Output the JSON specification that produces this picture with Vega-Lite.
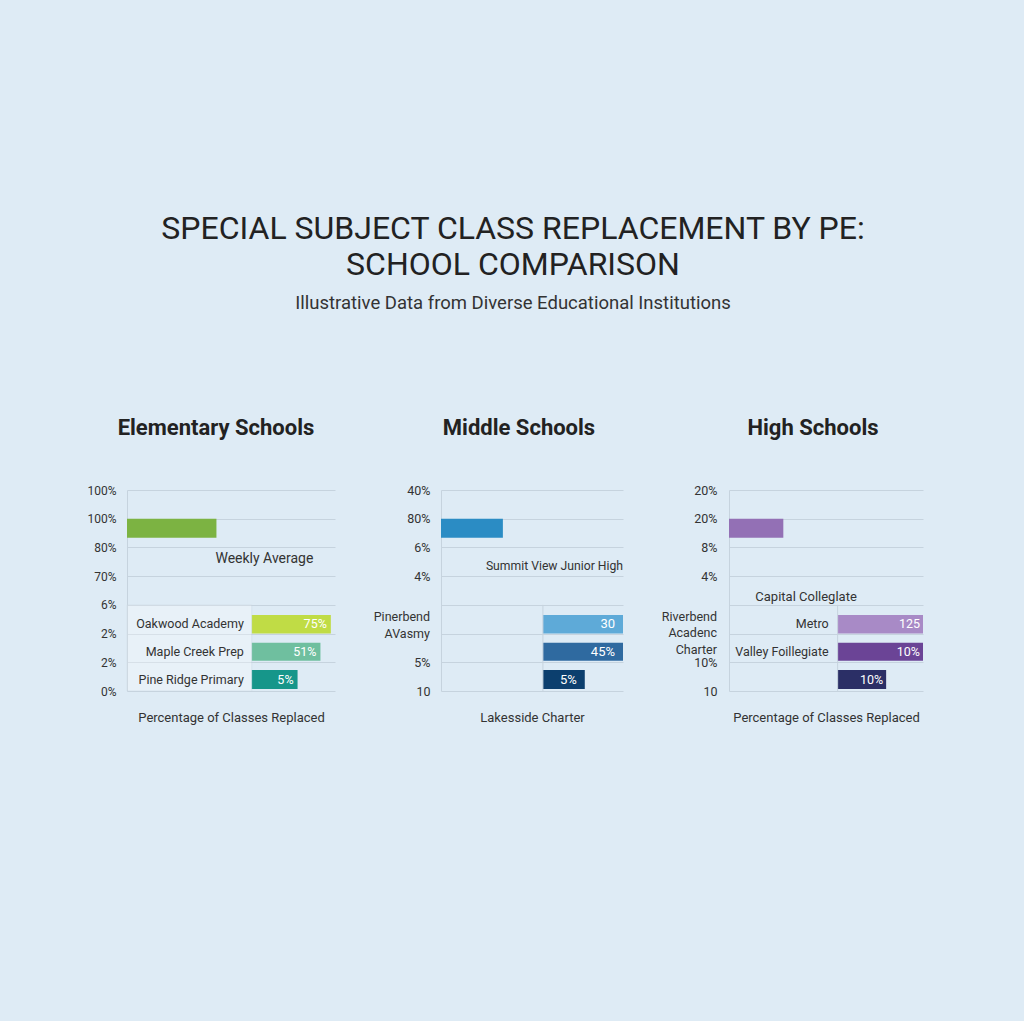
{
  "$schema": "https://vega.github.io/schema/vega-lite/v6.json",
  "background": "#deebf5",
  "padding": {"left": 86, "top": 212, "right": 101, "bottom": 297},
  "bounds": "flush",
  "spacing": 106,
  "config": {
    "font": "Roboto",
    "view": {"stroke": null},
    "axis": {"labelFont": "Roboto", "titleFont": "Roboto", "labelColor": "#333333", "titleColor": "#333333", "labelOverlap": false},
    "axisY": {"tickCount": 8}
  },
  "title": {
    "text": ["SPECIAL SUBJECT CLASS REPLACEMENT BY PE:", "SCHOOL COMPARISON"],
    "subtitle": "Illustrative Data from Diverse Educational Institutions",
    "font": "Roboto",
    "fontSize": 32,
    "fontWeight": "normal",
    "color": "#222222",
    "lineHeight": 36,
    "subtitleFont": "Roboto",
    "subtitleFontSize": 18.5,
    "subtitleColor": "#333333",
    "subtitlePadding": 12,
    "anchor": "middle",
    "dx": 8,
    "offset": 104
  },
  "resolve": {"scale": {"color": "independent", "x": "independent", "y": "independent"}},
  "hconcat": [
    {
      "width": 208,
      "height": 201,
      "title": {"text": "Elementary Schools", "fontSize": 22, "fontWeight": "bold", "color": "#222222", "offset": 44, "dx": -15},
      "data": {"values": [
        {"series": "Weekly Average", "start": 0, "end": 43, "hi": 6, "lo": 5.34, "mid": 5.67, "note": "Weekly Average"},
        {"series": "Oakwood Academy", "name": "Oakwood Academy", "val": "75%", "start": 60, "end": 98, "hi": 2.65, "lo": 2.0, "mid": 2.33},
        {"series": "Maple Creek Prep", "name": "Maple Creek Prep", "val": "51%", "start": 60, "end": 93, "hi": 1.68, "lo": 1.05, "mid": 1.37},
        {"series": "Pine Ridge Primary", "name": "Pine Ridge Primary", "val": "5%", "start": 60, "end": 82, "hi": 0.73, "lo": 0.07, "mid": 0.4}
      ]},
      "layer": [
        {
          "mark": {"type": "bar"},
          "encoding": {
            "x": {"field": "start", "type": "quantitative", "scale": {"domain": [0, 100], "nice": false},
                  "axis": {"title": "Percentage of Classes Replaced", "labels": false, "ticks": false, "domain": false, "grid": false, "titleFontSize": 13, "titleFontWeight": "normal", "titlePadding": 20}},
            "x2": {"field": "end"},
            "y": {"field": "hi", "type": "quantitative", "scale": {"domain": [0, 7], "nice": false},
                  "axis": {"title": null, "values": [0, 1, 2, 3, 4, 5, 6, 7], "tickCount": 8, "labelExpr": "['0%','2%','2%','6%','70%','80%','100%','100%'][datum.value]", "grid": true, "gridColor": "#c6d3de", "domainColor": "#c6d3de", "ticks": false, "labelPadding": 11, "labelFontSize": 12}},
            "y2": {"field": "lo"},
            "color": {"field": "series", "type": "nominal", "legend": null,
                      "scale": {"domain": ["Weekly Average", "Oakwood Academy", "Maple Creek Prep", "Pine Ridge Primary"], "range": ["#7cb342", "#c0dc45", "#6fbf9f", "#16968a"]}}
          }
        },
        {
          "transform": [{"filter": "datum.series == 'Oakwood Academy'"}],
          "mark": {"type": "rect", "fill": "#ffffff", "opacity": 0.3, "stroke": "#c6d3de", "strokeWidth": 1},
          "encoding": {
            "x": {"field": "start", "type": "quantitative"},
            "x2": {"datum": 0},
            "y": {"datum": 0},
            "y2": {"datum": 3}
          }
        },
        {
          "transform": [{"filter": "datum.val"}],
          "mark": {"type": "text", "align": "right", "baseline": "middle", "dx": -4, "color": "white", "fontSize": 12.5},
          "encoding": {
            "x": {"field": "end", "type": "quantitative"},
            "y": {"field": "mid", "type": "quantitative"},
            "text": {"field": "val"}
          }
        },
        {
          "transform": [{"filter": "datum.name"}],
          "mark": {"type": "text", "align": "right", "baseline": "middle", "dx": -8, "color": "#333333", "fontSize": 12.5},
          "encoding": {
            "x": {"field": "start", "type": "quantitative"},
            "y": {"field": "mid", "type": "quantitative"},
            "text": {"field": "name"}
          }
        },
        {
          "transform": [{"filter": "datum.note"}],
          "mark": {"type": "text", "align": "left", "baseline": "middle", "dx": -1, "dy": 21, "color": "#333333", "fontSize": 14},
          "encoding": {
            "x": {"field": "end", "type": "quantitative"},
            "y": {"field": "lo", "type": "quantitative"},
            "text": {"field": "note"}
          }
        }
      ]
    },
    {
      "width": 182,
      "height": 201,
      "title": {"text": "Middle Schools", "fontSize": 22, "fontWeight": "bold", "color": "#222222", "offset": 44, "dx": -13},
      "data": {"values": [
        {"series": "Summit View Junior High", "start": 0, "end": 34, "hi": 6, "lo": 5.34, "mid": 5.67, "note": "Summit View Junior High"},
        {"series": "Pinerbend", "val": "30", "start": 56, "end": 100, "hi": 2.65, "lo": 2.0, "mid": 2.33, "axislabel": ["Pinerbend", "AVasmy"]},
        {"series": "Avasmy", "val": "45%", "start": 56, "end": 100, "hi": 1.68, "lo": 1.05, "mid": 1.37},
        {"series": "Lakesside Charter", "val": "5%", "start": 56, "end": 79, "hi": 0.73, "lo": 0.07, "mid": 0.4}
      ]},
      "layer": [
        {
          "mark": {"type": "bar"},
          "encoding": {
            "x": {"field": "start", "type": "quantitative", "scale": {"domain": [0, 100], "nice": false},
                  "axis": {"title": "Lakesside Charter", "labels": false, "ticks": false, "domain": false, "grid": false, "titleFontSize": 13, "titleFontWeight": "normal", "titlePadding": 20}},
            "x2": {"field": "end"},
            "y": {"field": "hi", "type": "quantitative", "scale": {"domain": [0, 7], "nice": false},
                  "axis": {"title": null, "values": [0, 1, 2, 3, 4, 5, 6, 7], "tickCount": 8, "labelExpr": "['10','5%','','','4%','6%','80%','40%'][datum.value]", "grid": true, "gridColor": "#c6d3de", "domainColor": "#c6d3de", "ticks": false, "labelPadding": 11, "labelFontSize": 12.5}},
            "y2": {"field": "lo"},
            "color": {"field": "series", "type": "nominal", "legend": null,
                      "scale": {"domain": ["Summit View Junior High", "Pinerbend", "Avasmy", "Lakesside Charter"], "range": ["#2b8cc4", "#5eaad8", "#2f6aa0", "#0c3f6e"]}}
          }
        },
        {
          "transform": [{"filter": "datum.series == 'Pinerbend'"}],
          "mark": {"type": "rule", "color": "#c6d3de"},
          "encoding": {
            "x": {"field": "start", "type": "quantitative"},
            "y": {"datum": 0},
            "y2": {"datum": 3}
          }
        },
        {
          "transform": [{"filter": "datum.axislabel"}],
          "mark": {"type": "text", "align": "right", "baseline": "middle", "dx": -11, "dy": -17, "color": "#333333", "fontSize": 12.5, "lineHeight": 17},
          "encoding": {
            "x": {"datum": 0},
            "y": {"field": "lo", "type": "quantitative"},
            "text": {"field": "axislabel"}
          }
        },
        {
          "transform": [{"filter": "datum.val"}],
          "mark": {"type": "text", "align": "right", "baseline": "middle", "dx": -8, "color": "white", "fontSize": 13},
          "encoding": {
            "x": {"field": "end", "type": "quantitative"},
            "y": {"field": "mid", "type": "quantitative"},
            "text": {"field": "val"}
          }
        },
        {
          "transform": [{"filter": "datum.note"}],
          "mark": {"type": "text", "align": "left", "baseline": "middle", "dx": -17, "dy": 28, "color": "#333333", "fontSize": 12.2},
          "encoding": {
            "x": {"field": "end", "type": "quantitative"},
            "y": {"field": "lo", "type": "quantitative"},
            "text": {"field": "note"}
          }
        }
      ]
    },
    {
      "width": 194,
      "height": 201,
      "title": {"text": "High Schools", "fontSize": 22, "fontWeight": "bold", "color": "#222222", "offset": 44, "dx": -13},
      "data": {"values": [
        {"series": "Capital Colleglate", "start": 0, "end": 28, "hi": 6, "lo": 5.34, "mid": 5.67, "note": "Capital Colleglate"},
        {"series": "Metro", "name": "Metro", "val": "125", "start": 56, "end": 100, "hi": 2.65, "lo": 2.0, "mid": 2.33, "axislabel": ["Riverbend", "Acadenc", "Charter"]},
        {"series": "Valley Foillegiate", "name": "Valley Foillegiate", "val": "10%", "start": 56, "end": 100, "hi": 1.68, "lo": 1.05, "mid": 1.37},
        {"series": "Riverbend Acadenc Charter", "val": "10%", "start": 56, "end": 81, "hi": 0.73, "lo": 0.07, "mid": 0.4}
      ]},
      "layer": [
        {
          "mark": {"type": "bar"},
          "encoding": {
            "x": {"field": "start", "type": "quantitative", "scale": {"domain": [0, 100], "nice": false},
                  "axis": {"title": "Percentage of Classes Replaced", "labels": false, "ticks": false, "domain": false, "grid": false, "titleFontSize": 13, "titleFontWeight": "normal", "titlePadding": 20}},
            "x2": {"field": "end"},
            "y": {"field": "hi", "type": "quantitative", "scale": {"domain": [0, 7], "nice": false},
                  "axis": {"title": null, "values": [0, 1, 2, 3, 4, 5, 6, 7], "tickCount": 8, "labelExpr": "['10','10%','','','4%','8%','20%','20%'][datum.value]", "grid": true, "gridColor": "#c6d3de", "domainColor": "#c6d3de", "ticks": false, "labelPadding": 12, "labelFontSize": 12.5}},
            "y2": {"field": "lo"},
            "color": {"field": "series", "type": "nominal", "legend": null,
                      "scale": {"domain": ["Capital Colleglate", "Metro", "Valley Foillegiate", "Riverbend Acadenc Charter"], "range": ["#9370b5", "#a88ac6", "#6b4496", "#2b2f66"]}}
          }
        },
        {
          "transform": [{"filter": "datum.series == 'Metro'"}],
          "mark": {"type": "rule", "color": "#c6d3de"},
          "encoding": {
            "x": {"field": "start", "type": "quantitative"},
            "y": {"datum": 0},
            "y2": {"datum": 3}
          }
        },
        {
          "transform": [{"filter": "datum.axislabel"}],
          "mark": {"type": "text", "align": "right", "baseline": "middle", "dx": -12, "dy": -17, "color": "#333333", "fontSize": 12.5, "lineHeight": 16.5},
          "encoding": {
            "x": {"datum": 0},
            "y": {"field": "lo", "type": "quantitative"},
            "text": {"field": "axislabel"}
          }
        },
        {
          "transform": [{"filter": "datum.val"}],
          "mark": {"type": "text", "align": "right", "baseline": "middle", "dx": -3, "color": "white", "fontSize": 12.5},
          "encoding": {
            "x": {"field": "end", "type": "quantitative"},
            "y": {"field": "mid", "type": "quantitative"},
            "text": {"field": "val"}
          }
        },
        {
          "transform": [{"filter": "datum.name"}],
          "mark": {"type": "text", "align": "right", "baseline": "middle", "dx": -9, "color": "#333333", "fontSize": 12.5},
          "encoding": {
            "x": {"field": "start", "type": "quantitative"},
            "y": {"field": "mid", "type": "quantitative"},
            "text": {"field": "name"}
          }
        },
        {
          "transform": [{"filter": "datum.note"}],
          "mark": {"type": "text", "align": "left", "baseline": "middle", "dx": -28, "dy": 59, "color": "#333333", "fontSize": 13},
          "encoding": {
            "x": {"field": "end", "type": "quantitative"},
            "y": {"field": "lo", "type": "quantitative"},
            "text": {"field": "note"}
          }
        }
      ]
    }
  ]
}
